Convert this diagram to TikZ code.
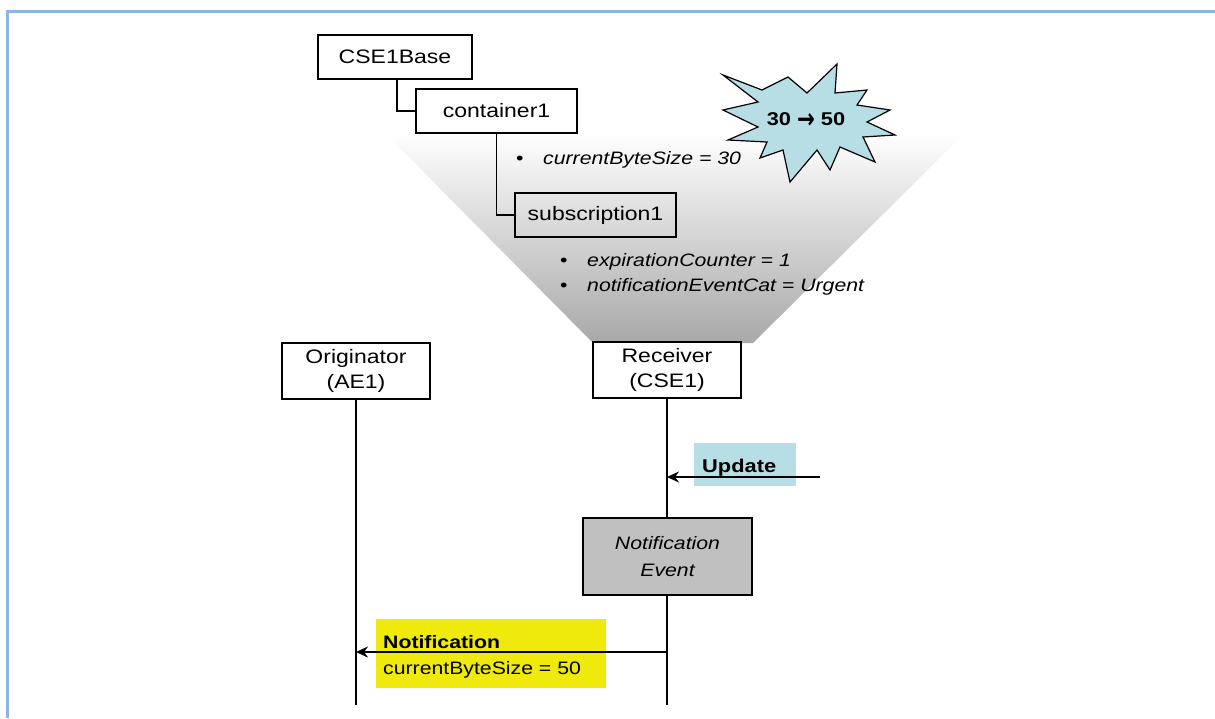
\documentclass[tikz,border=0pt]{standalone}
\usepackage{fontspec}
\setmainfont{Liberation Sans}[FakeStretch=1.18]
\newfontfamily\arrowfont{DejaVu Sans}
\usetikzlibrary{arrows.meta}
\definecolor{frameblue}{RGB}{141,180,226}
\definecolor{burstblue}{RGB}{183,222,228}
\definecolor{hiliteyellow}{RGB}{240,234,12}
\definecolor{eventgray}{RGB}{192,192,192}
\newcommand\fsz[2]{\fontsize{#1}{#2}\selectfont}

\begin{document}
\begin{tikzpicture}[x=1pt,y=-1pt,
  treebox/.style={draw, line width=1.2pt, inner sep=0pt, font=\fsz{19.5}{24},
                  minimum height=44pt},
  lifebox/.style={draw, line width=1.2pt, fill=white, inner sep=0pt, align=center,
                  font=\fsz{19.5}{25}, minimum width=148pt, minimum height=56pt},
  attr/.style={anchor=base west, inner sep=0pt, font=\fsz{18}{22}\itshape},
  link/.style={line width=1.2pt},
  life/.style={line width=1.3pt},
  msg/.style={line width=2.6pt, -{Stealth[length=12pt,width=11pt,inset=4pt]}},
  lbl/.style={anchor=base west, inner sep=0pt, font=\fsz{18}{22}},
]
\useasboundingbox (0,0) rectangle (1215,718);

% outer frame
\draw[frameblue, line width=3pt] (7.5,718) -- (7.5,11) -- (1215,11);

% resource funnel
\shade[top color=white, bottom color=black!34]
  (385,133) -- (965,133) -- (753,343) -- (593,343) -- cycle;

% resource tree
\node[treebox, minimum width=154pt] (base) at (395,57) {CSE1Base};
\node[treebox, minimum width=161pt] (cnt) at (496.5,111) {container1};
\node[treebox, minimum width=161pt] (sub) at (595.5,215) {subscription1};
\draw[link] ([xshift=2pt]base.south) |- (cnt.west);
\draw[link] (cnt.south) |- (sub.west);

% attributes
\node[attr] (a1) at (516,164) {\makebox[27pt][l]{\upshape•}currentByteSize = 30};
\node[attr] (a2) at (560,266) {\makebox[27pt][l]{\upshape•}expirationCounter = 1};
\node[attr] (a3) at (560,291) {\makebox[27pt][l]{\upshape•}notificationEventCat = Urgent};

% change burst
\draw[line width=1.2pt, fill=burstblue, line join=miter]
  (723,75) -- (762,90) -- (788,77) -- (807,93) -- (837,64) -- (835,93)
  -- (867,90) -- (857,105) -- (890,110) -- (867,122) -- (895,135) -- (863,137)
  -- (875,162) -- (840,147) -- (830,170) -- (817,150) -- (790,182) -- (783,150)
  -- (760,158) -- (767,142) -- (728,140) -- (758,127) -- (723,110) -- (758,102)
  -- cycle;
\node[inner sep=0pt, font=\fsz{18.5}{22}\bfseries] (burst) at (806,120.5)
  {30\kern6pt\raisebox{-3.2pt}{\arrowfont\bfseries\scalebox{1.15}[1.5]{→}}\kern6pt50};

% participants and lifelines
\node[lifebox] (org) at (356,371) {Originator\\(AE1)};
\node[lifebox] (rcv) at (667,370) {Receiver\\(CSE1)};
\coordinate (lend) at (0,705);
\draw[life] (org.south) -- (org.south |- lend);
\draw[life] (rcv.south) -- (rcv.south |- lend);

% notification event
\node[draw, line width=1.2pt, fill=eventgray, inner sep=0pt, minimum width=169pt,
      minimum height=77pt, align=center, font=\fsz{18}{27}\itshape]
  (evt) at (667.5,556.5) {Notification\\Event};

% update request
\node[fill=burstblue, minimum width=102pt, minimum height=43pt, inner sep=0pt]
  (updbox) at (745,464.5) {};
\node[lbl, font=\fsz{18.5}{22}\bfseries] (updtxt) at (702,472) {Update};
\coordinate (updsrc) at (820,477);
\draw[msg] (updsrc) -- (rcv.south |- updsrc);

% notification message
\node[fill=hiliteyellow, minimum width=230pt, minimum height=69pt, inner sep=0pt]
  (ntfbox) at (491,653.5) {};
\node[lbl, font=\fsz{18}{22}\bfseries] (ntftxt) at (383,648) {Notification};
\node[lbl] (ntfattr) at (383,674) {currentByteSize = 50};
\coordinate (ny) at (0,652);
\draw[msg] (rcv.south |- ny) -- (org.south |- ny);
\end{tikzpicture}
\end{document}
